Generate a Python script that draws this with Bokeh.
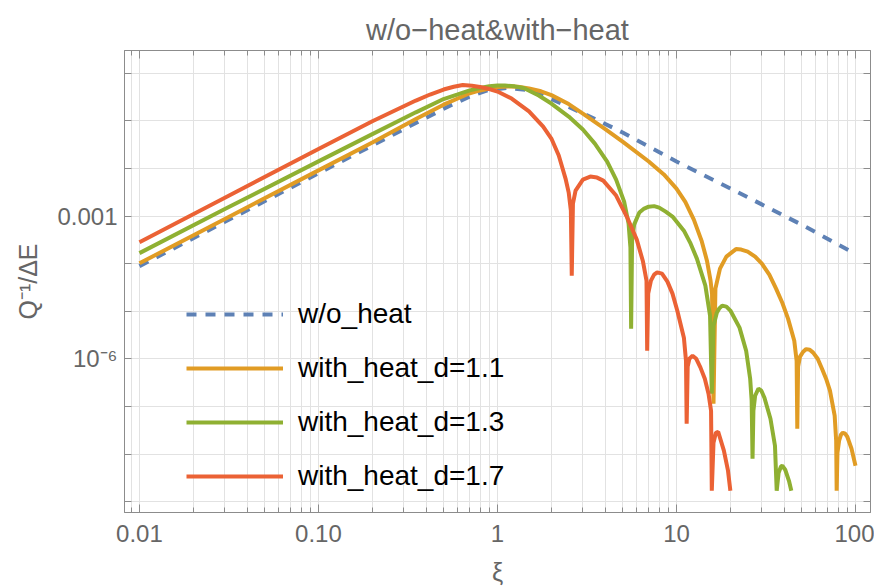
from bokeh.plotting import figure
from bokeh.models import Range1d, FixedTicker, LogAxis, CustomJSTickFormatter, Legend, LegendItem
from bokeh.embed import file_html
from bokeh.resources import INLINE

# ---------------- data ----------------
xi_wo = [0.01, 0.03, 0.1, 0.2, 0.35, 0.55, 0.7, 0.88, 1.12, 1.43, 1.8, 2.3, 2.9, 3.6, 5.0,
         10, 20, 50, 100]
q_wo = [8.91e-5, 7.59e-4, 7.94e-3, 3.05e-2, 9.02e-2, 0.214, 0.324, 0.437, 0.490, 0.452,
        0.343, 0.2275, 0.1514, 0.1047, 5.69e-2, 1.40e-2, 3.80e-3, 6.61e-4, 1.61e-4]

xi_d11 = [0.01, 0.03, 0.1, 0.2, 0.35, 0.5, 0.6, 0.7, 0.8, 0.9, 1.0, 1.15, 1.3, 1.5, 1.75,
          2.0, 2.5, 3.0, 4.0, 5.0, 7.0,
          8.5, 10, 11.2, 12.5, 13.8, 14.8, 15.5, 15.8, 16.1, 16.5, 17.5, 19.0, 21.5, 23.0,
          25.0, 27.5, 30.0, 33.0, 36.0, 39.0, 42.0, 45.5, 46.9, 47.3, 47.8, 49.0, 51.0, 53.0,
          55.5, 58.0, 61.5, 65.0, 68.5, 72.0, 76.5, 78.0,
          78.5, 79.3, 81.0, 83.0, 85.0, 87.5, 90.0, 95.0, 100]
q_d11 = [1.02e-4, 8.71e-4, 9.12e-3, 3.51e-2, 0.1096, 0.2188, 0.295, 0.380, 0.435, 0.479,
         0.513, 0.525, 0.519, 0.479, 0.417,
         0.347, 0.2254, 0.1423, 6.73e-2, 3.67e-2, 1.40e-2,
         7.50e-3, 3.78e-3, 2.00e-3, 8.44e-4, 3.06e-4, 1.16e-4, 4.42e-5, 2.32e-5, 1.15e-7,
         3.00e-5, 7.89e-5, 1.41e-4, 2.03e-4, 1.98e-4,
         1.79e-4, 1.41e-4, 1.00e-4, 5.90e-5, 3.00e-5, 1.52e-5, 7.03e-6, 2.42e-6, 9.20e-7,
         3.44e-8, 6.89e-7, 1.12e-6, 1.42e-6, 1.61e-6,
         1.57e-6, 1.36e-6, 1.01e-6, 6.25e-7, 3.85e-7, 2.16e-7, 6.44e-8, 1.92e-8,
         1.71e-9, 1.08e-8, 1.92e-8, 2.57e-8, 2.83e-8, 2.70e-8, 2.33e-8, 1.31e-8, 5.73e-9]

xi_d13 = [0.01, 0.03, 0.1, 0.2, 0.35, 0.5, 0.6, 0.7, 0.8, 0.9, 1.0, 1.1, 1.25, 1.4, 1.7,
          2.0, 2.5, 3.0, 3.5, 4.1,
          4.6, 5.1, 5.4, 5.53, 5.58, 5.65, 5.8, 6.2, 6.6, 7.0, 7.5, 8.0, 8.7, 9.5, 11.0, 12.0,
          13.0, 14.5, 15.4,
          15.75, 16.1, 16.8, 17.3, 18.0, 19.0, 20.0, 22.5, 24.5, 25.8, 26.3, 26.6, 26.9, 27.5,
          28.7, 29.8, 31.0,
          33.5, 35.5, 36.3, 37.2, 38.3, 39.0, 40.5, 42.5, 43.8]
q_d13 = [1.67e-4, 1.41e-3, 1.41e-2, 5.27e-2, 0.151, 0.287, 0.359, 0.437, 0.490, 0.531,
         0.550, 0.552, 0.530, 0.489, 0.340,
         0.2309, 0.1231, 6.57e-2, 3.33e-2, 1.40e-2,
         5.85e-3, 2.02e-3, 6.96e-4, 2.18e-4, 4.33e-6, 3.05e-4, 6.62e-4, 1.19e-3, 1.44e-3,
         1.58e-3, 1.62e-3, 1.51e-3, 1.24e-3, 9.77e-4, 4.95e-4, 2.64e-4,
         1.28e-4, 3.47e-5, 8.13e-6,
         1.87e-7, 5.01e-6, 9.40e-6, 1.14e-5, 1.32e-5, 1.26e-5, 1.04e-5, 4.55e-6, 1.49e-6,
         3.85e-7, 1.33e-7, 8.04e-9, 8.20e-8, 1.69e-7,
         2.38e-7, 2.16e-7, 1.54e-7,
         5.57e-8, 1.51e-8, 1.71e-9, 4.09e-9, 5.46e-9, 5.73e-9, 4.72e-9, 2.77e-9, 1.71e-9]

xi_d17 = [0.01, 0.03, 0.1, 0.2, 0.35, 0.42, 0.5, 0.57, 0.64, 0.72, 0.8, 0.9, 1.0, 1.2, 1.5,
          1.8, 2.0, 2.2, 2.4, 2.5,
          2.57, 2.6, 2.64, 2.73, 3.0, 3.3, 3.6, 3.9, 4.6, 5.3, 6.0, 6.5, 6.8, 6.86, 6.95, 7.2,
          7.5, 7.8, 8.3,
          8.9, 9.5, 10.1, 11.0, 11.3, 11.4, 11.55, 11.8, 12.3, 12.9, 13.6, 14.4, 15.1, 15.6,
          15.75, 16.1, 16.6,
          17.1, 18.4, 19.4, 20.0]
q_d17 = [2.82e-4, 2.43e-3, 2.57e-2, 9.79e-2, 0.267, 0.357, 0.4545, 0.519, 0.565, 0.547,
         0.513, 0.466, 0.4125, 0.294, 0.1585,
         7.59e-2, 4.25e-2, 1.87e-2, 6.14e-3, 3.12e-3,
         1.31e-3, 5.62e-5, 1.83e-3, 3.43e-3, 5.85e-3, 6.76e-3, 6.44e-3, 5.57e-3, 2.70e-3,
         9.44e-4, 3.21e-4, 1.11e-4, 4.42e-5, 1.49e-6, 2.36e-5, 4.42e-5,
         5.90e-5, 6.59e-5, 6.19e-5,
         4.21e-5, 2.36e-5, 1.04e-5, 2.80e-6, 9.20e-7, 4.38e-8, 6.89e-7, 1.01e-6, 1.17e-6,
         1.01e-6, 6.67e-7, 3.85e-7, 1.87e-7, 8.20e-8,
         1.71e-9, 1.75e-8, 2.83e-8,
         2.97e-8, 1.19e-8, 4.51e-9, 1.71e-9]

series_labels = ["w/o_heat", "with_heat_d=1.1", "with_heat_d=1.3", "with_heat_d=1.7"]
series_colors = ["#5E81B5", "#E19C24", "#8FB032", "#EB6235"]

x_tick_values = [0.01, 0.1, 1, 10, 100]
x_tick_labels = ["0.01", "0.10", "1", "10", "100"]
x_minor_ticks = [m * 10.0 ** e for e in range(-3, 3) for m in range(2, 10)
                 if 0.0085 < m * 10.0 ** e < 100]
y_tick_values = [10.0 ** e for e in range(0, -10, -1)]
y_label_values = [1e-3, 1e-6]
y_label_texts = ["0.001", "10\u207b\u2076"]

title_text = "w/o\u2212heat&with\u2212heat"
x_label = "\u03be"
y_label = "Q\u207b\u00b9/\u0394E"

# ---------------- styling ----------------
FONT = "Liberation Sans"
GRAY_TXT = "#666666"
FRAME = "#8c8c8c"
GRID = "#e2e2e2"

p = figure(x_axis_type="log", y_axis_type="log",
           x_range=Range1d(0.00825, 121.3), y_range=Range1d(5.98e-10, 3.0),
           frame_width=746, frame_height=462,
           min_border_left=124, min_border_right=4, min_border_top=50, min_border_bottom=74,
           output_backend="svg", toolbar_location=None, title=title_text,
           background_fill_color="white", border_fill_color="white")

p.title.text_font = FONT
p.title.text_font_size = "29px"
p.title.text_font_style = "normal"
p.title.text_color = GRAY_TXT
p.title.align = "center"

p.outline_line_color = FRAME
p.outline_line_width = 1

x_ticker = FixedTicker(ticks=x_tick_values, minor_ticks=x_minor_ticks)
y_ticker = FixedTicker(ticks=y_tick_values, minor_ticks=[])

x_fmt = CustomJSTickFormatter(args=dict(vals=x_tick_values, labs=x_tick_labels), code="""
for (let i = 0; i < vals.length; i++) {
  if (Math.abs(Math.log10(tick) - Math.log10(vals[i])) < 1e-6) return labs[i];
}
return "";
""")
y_fmt = CustomJSTickFormatter(args=dict(vals=y_label_values, labs=y_label_texts), code="""
for (let i = 0; i < vals.length; i++) {
  if (Math.abs(Math.log10(tick) - Math.log10(vals[i])) < 1e-6) return labs[i];
}
return "";
""")
blank_fmt = CustomJSTickFormatter(code="return '';")


def style_axis(ax, major_in, minor_in):
    ax.axis_line_color = FRAME
    ax.axis_line_width = 1
    ax.major_tick_line_color = FRAME
    ax.minor_tick_line_color = FRAME
    ax.major_tick_in = major_in
    ax.major_tick_out = 0
    ax.minor_tick_in = minor_in
    ax.minor_tick_out = 0
    ax.major_label_text_font = FONT
    ax.major_label_text_font_size = "24px"
    ax.major_label_text_color = GRAY_TXT
    ax.axis_label_text_font = FONT
    ax.axis_label_text_font_size = "25px"
    ax.axis_label_text_font_style = "normal"
    ax.axis_label_text_color = GRAY_TXT


xb = p.xaxis[0]
xb.ticker = x_ticker
xb.formatter = x_fmt
style_axis(xb, 8, 5)
xb.major_label_standoff = 12
xb.axis_label = x_label
xb.axis_label_standoff = 13

yl = p.yaxis[0]
yl.ticker = y_ticker
yl.formatter = y_fmt
style_axis(yl, 7, 0)
yl.major_label_standoff = 7
yl.axis_label = y_label
yl.axis_label_standoff = 12

xt = LogAxis(ticker=x_ticker, formatter=blank_fmt)
style_axis(xt, 8, 5)
xt.major_label_text_font_size = "1px"
xt.major_label_standoff = 0
p.add_layout(xt, "above")

yr = LogAxis(ticker=y_ticker, formatter=blank_fmt)
style_axis(yr, 7, 0)
yr.major_label_text_font_size = "1px"
yr.major_label_standoff = 0
p.add_layout(yr, "right")

p.xgrid.ticker = x_ticker
p.xgrid.grid_line_color = GRID
p.xgrid.minor_grid_line_color = GRID
p.ygrid.ticker = y_ticker
p.ygrid.grid_line_color = GRID

# ---------------- curves ----------------
r0 = p.line(xi_wo, q_wo, line_color=series_colors[0], line_width=4, line_dash="10 9")
r1 = p.line(xi_d11, q_d11, line_color=series_colors[1], line_width=4)
r2 = p.line(xi_d13, q_d13, line_color=series_colors[2], line_width=4)
r3 = p.line(xi_d17, q_d17, line_color=series_colors[3], line_width=4)

legend = Legend(items=[LegendItem(label=series_labels[i], renderers=[r])
                       for i, r in enumerate([r0, r1, r2, r3])],
                location=(62, 20))
legend.background_fill_alpha = 0
legend.border_line_alpha = 0
legend.padding = 0
legend.margin = 0
legend.spacing = 22
legend.glyph_width = 97
legend.glyph_height = 32
legend.label_height = 32
legend.label_standoff = 15
legend.label_text_font = FONT
legend.label_text_font_size = "28px"
legend.label_text_color = "black"
p.add_layout(legend)

open("out.html", "w").write(file_html(p, INLINE))
